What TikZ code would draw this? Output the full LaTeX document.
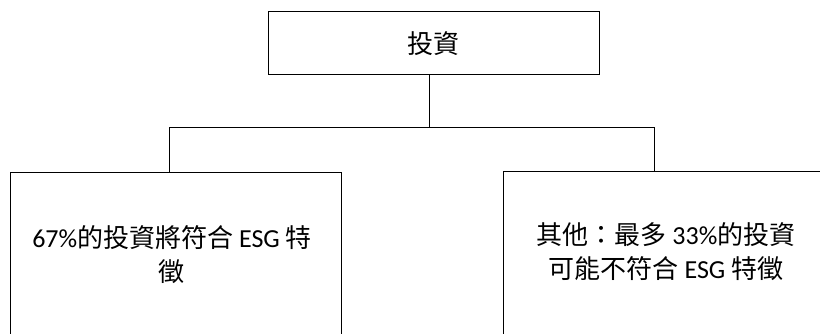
\documentclass[tikz,border=0pt]{standalone}
\usepackage{fontspec}
\setmainfont{Carlito}
\newfontfamily\cjk{Noto Sans CJK TC}
\begin{document}
\begin{tikzpicture}[x=1pt,y=-1pt,
  box/.style={draw=black,line width=1pt,rectangle,inner sep=0pt,align=center},
  conn/.style={draw=black,line width=1pt},
  txt/.style={font=\fontsize{26}{34}\selectfont}]
\useasboundingbox (0,0) rectangle (820,334);
\clip (0,0) rectangle (820,334);
\node[box,minimum width=331,minimum height=63,txt] (top) at (433.5,43.5) {\cjk 投資};
\node[box,minimum width=331,minimum height=164] (left) at (175.5,255) {};
\node[box,minimum width=330,minimum height=164] (right) at (668,254) {};
\node[txt,align=center,inner sep=0pt] (ltext) at (172,255) {67\%{\cjk 的投資將符合} ESG {\cjk 特}\\{\cjk 徵}};
\node[txt,align=center,inner sep=0pt] (rtext) at (666,252) {{\cjk 其他：最多} 33\%{\cjk 的投資}\\{\cjk 可能不符合} ESG {\cjk 特徵}};
\coordinate (j) at (429,128);
\coordinate (jl) at (169,128);
\coordinate (jr) at (654,128);
\draw[conn] (top.south -| j) -- (j);
\draw[conn] (left.north -| jl) -- (jl) -- (jr) -- (right.north -| jr);
\end{tikzpicture}
\end{document}
